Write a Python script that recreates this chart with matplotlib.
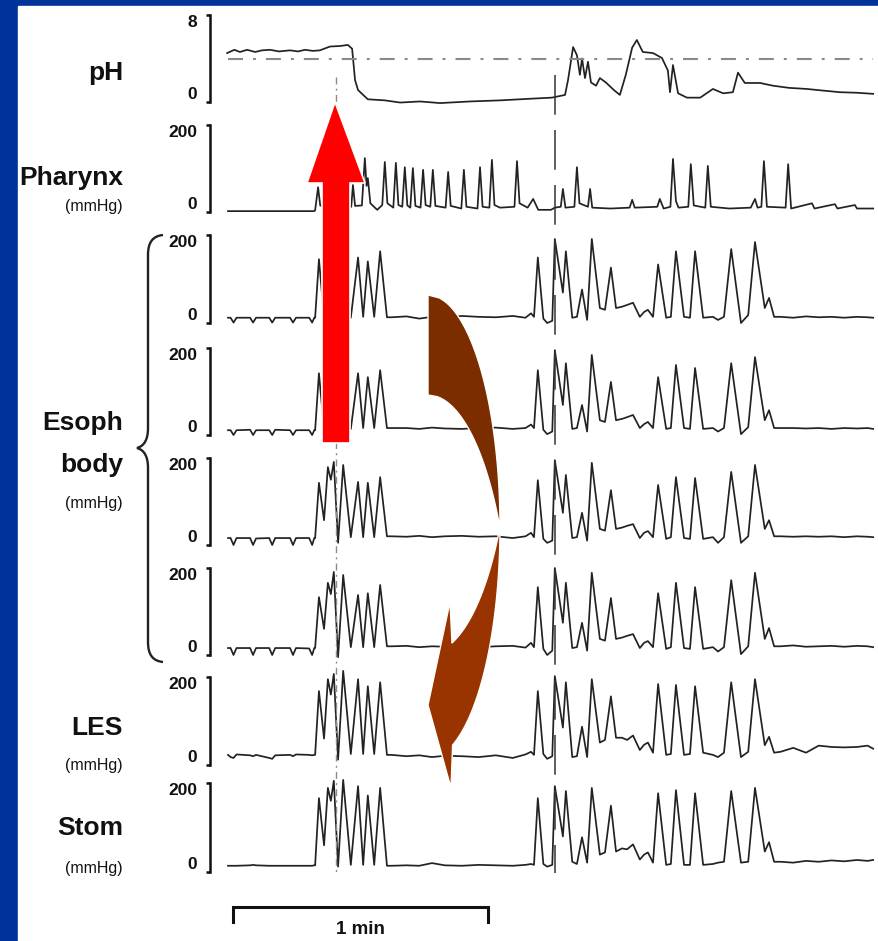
import matplotlib
matplotlib.use("Agg")
import matplotlib.pyplot as plt
from matplotlib.patches import Polygon, Rectangle, PathPatch
from matplotlib.path import Path
import numpy as np

plt.rcParams['font.family'] = ['Liberation Sans', 'DejaVu Sans']

# ---------------- data (time in s, pressure in mmHg) ----------------
PH_TRACE = [(-0.2, 4.5), (1.5, 4.8), (2.8, 4.6), (4.5, 4.8), (6.4, 4.6), (8, 4.75), (9.9, 4.8),
            (12, 4.65), (14.6, 4.75), (16.5, 4.65), (18.1, 4.8), (20, 4.7), (21.6, 4.75), (24.0, 5.1),
            (26.4, 5.15), (28.2, 5.25), (29.2, 4.9), (29.9, 2.0), (30.6, 1.1), (31.8, 0.65), (32.9, 0.25),
            (36.9, 0.15), (40.5, -0.05), (45.2, 0.05), (49.9, -0.1), (56.9, 0.05), (64, 0.15), (71.1, 0.3),
            (76.2, 0.4), (79.3, 0.65), (80.0, 2.0), (81.2, 5.05), (82.1, 4.3), (82.8, 2.5), (83.3, 4.0),
            (84.0, 2.2), (84.7, 3.7), (85.4, 1.8), (86.6, 1.5), (87.5, 2.2), (88.9, 1.8), (90.8, 1.1),
            (92.2, 0.65), (93.6, 2.5), (95.1, 5.0), (96.2, 5.7), (97.6, 4.6), (100, 4.5), (102.1, 4.05),
            (103.5, 2.9), (104, 0.9), (104.7, 3.4), (105.9, 0.8), (108, 0.4), (111.1, 0.4), (114.1, 1.2),
            (116.5, 0.8), (118.8, 0.9), (120, 2.7), (121.6, 1.75), (125.2, 1.75), (128.2, 1.5), (132, 1.3),
            (136.2, 1.2), (140, 1.05), (144, 0.9), (148, 0.85), (151.8, 0.75)]
PH_THRESHOLD = 4

PHARYNX = [(0, 2), (20.3, 2), (20.5, 4), (21.2, 57), (21.7, 15), (22.5, 12), (29.0, 12), (29.4, 62),
           (29.9, 14), (31.5, 15), (32.2, 124), (32.6, 60), (32.9, 78), (33.5, 20), (35.1, 5), (36.3, 16),
           (36.9, 115), (37.5, 20), (38.9, 10), (39.5, 113), (40.1, 16), (41.0, 12), (41.6, 103), (42.2, 15),
           (42.9, 10), (43.5, 101), (44.1, 14), (45.3, 10), (45.9, 97), (46.5, 16), (47.6, 12), (48.2, 97),
           (48.8, 14), (51.2, 10), (51.8, 92), (52.4, 14), (54.9, 8), (55.5, 97), (56.1, 12), (58.7, 8),
           (59.3, 103), (59.9, 12), (61.5, 10), (62.1, 120), (62.7, 16), (64, 10), (67.4, 12), (68.0, 117),
           (68.6, 20), (70.5, 10), (71.8, 30), (73, 5), (76, 5), (76.9, 10), (78.3, 12), (78.8, 53),
           (79.4, 10), (81.5, 12), (82.1, 103), (82.7, 20), (84.7, 12), (85.2, 53), (85.7, 10), (90, 8),
           (94.5, 10), (95.1, 28), (95.7, 10), (101, 12), (101.6, 30), (102.5, 8), (104.1, 12), (104.7, 122),
           (105.4, 25), (106, 10), (108.3, 12), (108.9, 110), (109.6, 15), (112.3, 10), (112.9, 106),
           (113.6, 12), (118, 8), (123, 10), (124, 30), (124.6, 10), (125.5, 12), (126.1, 117), (126.8, 12),
           (131.2, 10), (131.8, 110), (132.5, 8), (137.4, 20), (138, 8), (142.8, 18), (143.4, 8),
           (147.5, 16), (148, 8), (151.8, 8)]

# shared sample times of the esophageal / LES / stomach tracings
PRE_T = [0, 0.6, 1.3, 2.0, 5.2, 5.9, 6.6, 9.7, 10.4, 11.1, 14.6, 15.3, 16.0, 19.1, 19.8, 20.3]
BURST1_T = [20.5, 21.4, 22.6, 23.5, 24.2, 24.9, 25.9, 27.1, 28.9, 30.6, 31.8, 32.9, 34.4, 35.8, 37.4]
MID_T = [38.5, 42, 45, 48, 51, 55, 59, 63, 67, 70, 71.3]
BURST2_T = [72.0, 72.9, 74.2, 75.1, 76.3, 76.9, 78.8, 79.5, 81.0, 82.1, 83.3, 84.5, 85.6, 87.5, 88.7,
            90.1, 91.3, 92.7, 93.9, 95.3, 96.9, 97.9, 98.8, 100.0, 101.2, 103.1, 104.2, 105.4, 107.3,
            108.7, 109.9, 111.8, 114.1, 115.3, 116.7, 118.4, 120.7, 122.4, 124.0, 126.3, 127.3, 128.5]
TAIL_T = [130, 133, 136, 139, 142, 145, 148, 150.5, 151.8]
TRACE_T = PRE_T + BURST1_T + MID_T + BURST2_T + TAIL_T

ESO1 = ([12, 12, 1, 12, 12, 1, 12, 12, 1, 12, 12, 1, 12, 12, 1, 12] +
        [12, 145, 12, 12, 12, 12, 12, 12, 12, 149, 14, 140, 14, 163, 13] +
        [13, 15, 10, 14, 12, 16, 14, 13, 16, 12, 22] +
        [14, 149, 10, 0, 5, 191, 69, 163, 12, 14, 76, 7, 191, 34, 30, 126, 34, 37, 41, 46, 14,
         25, 30, 14, 133, 12, 14, 163, 14, 12, 163, 12, 14, 7, 14, 168, 0, 18, 184, 34, 57, 14] +
        [14, 12, 15, 13, 14, 12, 14, 13, 12])
ESO2 = ([11, 11, 0, 11, 12, 0, 11, 11, 0, 12, 11, 0, 11, 11, 0, 11] +
        [11, 142, 12, 12, 12, 12, 12, 12, 14, 142, 16, 133, 16, 149, 16] +
        [16, 16, 14, 17, 15, 14, 16, 17, 14, 16, 24] +
        [16, 149, 12, 2, 8, 195, 69, 165, 14, 16, 69, 8, 184, 34, 30, 122, 34, 37, 41, 46, 16,
         25, 30, 16, 133, 14, 16, 161, 16, 14, 154, 14, 16, 8, 16, 165, 2, 18, 179, 34, 57, 16] +
        [16, 16, 15, 16, 14, 16, 15, 16, 14])
ESO3 = ([16, 16, 0, 16, 16, 0, 15, 16, 0, 16, 16, 0, 16, 16, 0, 16] +
        [16, 143, 57, 179, 150, 191, 5, 184, 18, 145, 18, 143, 18, 156, 20] +
        [20, 19, 21, 18, 20, 21, 19, 20, 16, 20, 28] +
        [18, 149, 14, 5, 10, 195, 74, 161, 16, 18, 74, 10, 189, 37, 33, 126, 37, 40, 44, 48, 16,
         28, 32, 18, 138, 14, 18, 156, 16, 14, 154, 14, 18, 5, 18, 168, 5, 20, 184, 37, 57, 20] +
        [20, 19, 20, 19, 20, 18, 20, 19, 18])
ESO4 = ([16, 16, 0, 16, 16, 0, 16, 16, 0, 16, 16, 0, 16, 15, 0, 16] +
        [16, 133, 60, 166, 140, 191, -5, 184, 18, 138, 18, 142, 18, 161, 20] +
        [20, 21, 18, 20, 19, 22, 18, 20, 21, 17, 28] +
        [18, 156, 14, 0, 10, 200, 74, 166, 16, 18, 74, 10, 189, 37, 33, 131, 37, 40, 44, 48, 16,
         28, 32, 18, 142, 14, 18, 166, 16, 14, 156, 14, 18, 8, 18, 172, 2, 20, 189, 37, 62, 20] +
        [20, 22, 19, 20, 21, 19, 21, 20, 18])
LES = ([23, 18, 16, 24, 22, 20, 23, 16, 14, 22, 23, 20, 24, 23, 22, 23] +
       [23, 168, 60, 195, 160, 207, 12, 214, 25, 195, 25, 179, 25, 188, 23] +
       [23, 20, 22, 18, 21, 20, 18, 22, 16, 24, 30] +
       [23, 168, 25, 14, 20, 202, 85, 188, 18, 20, 87, 18, 195, 51, 57, 156, 62, 62, 57, 67, 34,
        46, 51, 28, 184, 23, 25, 182, 23, 25, 179, 28, 23, 18, 28, 188, 18, 30, 195, 45, 64, 28] +
       [30, 39, 28, 44, 41, 40, 41, 44, 37])
STOM = ([14, 14, 14, 14, 15, 16, 15, 14, 14, 14, 14, 14, 14, 14, 14, 15] +
        [15, 166, 60, 189, 160, 205, 12, 207, 16, 193, 16, 172, 16, 189, 14] +
        [14, 15, 14, 20, 15, 14, 16, 15, 14, 16, 18] +
        [16, 166, 18, 12, 16, 193, 80, 182, 23, 18, 78, 21, 189, 39, 44, 149, 46, 53, 51, 62, 28,
         39, 44, 21, 177, 16, 18, 184, 16, 16, 177, 16, 18, 21, 23, 182, 21, 23, 189, 46, 67, 23] +
        [23, 21, 25, 23, 26, 24, 27, 25, 27])
for tr in (ESO1, ESO2, ESO3, ESO4, LES, STOM):
    assert len(tr) == len(TRACE_T), len(tr)

EVENT_TIMES = [25.4, 76.9]
SCALE_BAR = (1.2, 60)          # start, length in s
PRESSURE_MAX = 200
PH_MAX = 8

# ---------------- layout (pixels) ----------------
W, H = 879, 941
T0_PX, PX_PER_S = 228, 4.25
AX_X0, AX_X1 = 210, 878
XLIM = ((AX_X0 - T0_PX) / PX_PER_S, (AX_X1 - T0_PX) / PX_PER_S)
TOP_PX = [15, 125, 235, 348, 458, 568, 677, 783]
ZERO_PX = [102, 212, 323, 435, 545, 655, 765, 872]
LINE = '#222222'
LW = 1.25

fig = plt.figure(figsize=(W / 100, H / 100), dpi=100)
fig.patch.set_facecolor('#00339a')


def px_rect(x0, y0, x1, y1):
    return [x0 / W, 1 - y1 / H, (x1 - x0) / W, (y1 - y0) / H]


bg = fig.add_axes([0, 0, 1, 1])
bg.set_xlim(0, W)
bg.set_ylim(H, 0)
bg.axis('off')
bg.add_patch(Rectangle((18, 6), W - 18, H - 6, color='white', zorder=0))

labels = [("pH", 80, 19), ("Pharynx", 185, 19), ("(mmHg)", 211, 11.5),
          ("Esoph", 430, 19), ("body", 472, 19), ("(mmHg)", 508, 11.5),
          ("LES", 735, 19), ("(mmHg)", 770, 11.5), ("Stom", 835, 19), ("(mmHg)", 873, 11.5)]
for txt, yb, fs in labels:
    bg.text(123, yb, txt, ha='right', va='baseline', fontsize=fs, color='#111',
            fontweight='bold' if fs > 15 else 'normal')

# curly brace of the esophageal body
brace = Path([(163, 235), (153, 236), (148, 242), (148, 255), (148, 428),
              (148, 440), (144, 446), (137, 448), (144, 450), (148, 456), (148, 468),
              (148, 642), (148, 655), (153, 661), (163, 662)],
             [Path.MOVETO, Path.CURVE4, Path.CURVE4, Path.CURVE4, Path.LINETO,
              Path.CURVE4, Path.CURVE4, Path.CURVE4, Path.CURVE4, Path.CURVE4, Path.CURVE4,
              Path.LINETO, Path.CURVE4, Path.CURVE4, Path.CURVE4])
bg.add_patch(PathPatch(brace, fill=False, lw=1.7, color='#222'))


def channel_axes(i, vmax, lo, hi):
    s = (ZERO_PX[i] - TOP_PX[i]) / vmax
    ax = fig.add_axes(px_rect(AX_X0, ZERO_PX[i] - hi * s, AX_X1, ZERO_PX[i] - lo * s))
    ax.set_zorder(1)
    ax.patch.set_alpha(0)
    ax.set_xlim(XLIM)
    ax.set_ylim(lo, hi)
    for sp in ['top', 'right', 'bottom']:
        ax.spines[sp].set_visible(False)
    ax.spines['left'].set_bounds(0, vmax)
    ax.spines['left'].set_linewidth(1.8)
    ax.spines['left'].set_color('#111')
    ax.set_xticks([])
    ax.set_yticks([0, vmax])
    ax.set_yticklabels(['0', str(vmax)])
    ax.tick_params(axis='y', length=3, width=1.8, pad=6, labelsize=12.5, colors='#111')
    lab = ax.get_yticklabels()
    lab[0].set_va('bottom')
    lab[1].set_va('top')
    for l in lab:
        l.set_fontweight('bold')
    return ax


ph_ax = channel_axes(0, PH_MAX, -2, 10)
t, v = zip(*PH_TRACE)
ph_ax.plot(t, v, color=LINE, lw=LW, clip_on=False)
ph_ax.plot([0, TRACE_T[-1]], [PH_THRESHOLD, PH_THRESHOLD], color='#8a8a8a', lw=1.5,
           dashes=(7.2, 4.8, 1.4, 4.8))

ph_ax2 = channel_axes(1, PRESSURE_MAX, -40, 240)
t, v = zip(*PHARYNX)
ph_ax2.plot(t, v, color=LINE, lw=LW, clip_on=False)

for i, tr in enumerate([ESO1, ESO2, ESO3, ESO4, LES, STOM], start=2):
    ax = channel_axes(i, PRESSURE_MAX, -40, 240)
    ax.plot(TRACE_T, tr, color=LINE, lw=LW, clip_on=False)

# event markers and time scale
ev = fig.add_axes(px_rect(AX_X0, 0, AX_X1, H))
ev.set_zorder(2)
ev.patch.set_alpha(0)
ev.set_xlim(XLIM)
ev.set_ylim(H, 0)
ev.axis('off')
ev.plot([EVENT_TIMES[0]] * 2, [77, 875], color='#8c8c8c', lw=1.0, dashes=(5, 3, 1.5, 3))
ev.plot([EVENT_TIMES[1]] * 2, [75, 873], color='#333333', lw=1.1, dashes=(26, 10))
x0, dur = SCALE_BAR
ev.plot([x0, x0, x0 + dur, x0 + dur], [922, 907, 907, 922], color='#111', lw=2.2,
        solid_joinstyle='miter')
ev.text(x0 + dur / 2, 930, "1 min", ha='center', va='center', fontsize=13.5,
        fontweight='bold', color='#111')

# overlay arrows
ov = fig.add_axes([0, 0, 1, 1])
ov.set_zorder(3)
ov.patch.set_alpha(0)
ov.set_xlim(0, W)
ov.set_ylim(H, 0)
ov.axis('off')
ov.add_patch(Polygon([(322, 443), (322, 183), (307, 183), (335, 102), (365, 183), (350, 183), (350, 443)],
                     closed=True, facecolor='#ff0000', edgecolor='white', lw=1.2))


def ell_x(y, cy, a, b):
    return 428 + a * np.sqrt(np.clip(1 - ((y - cy) / b) ** 2, 0, 1))


y_up = np.linspace(295, 527, 80)
y_in_up = np.linspace(527, 395, 80)
top_part = np.vstack([np.column_stack([ell_x(y_up, 527, 72, 232), y_up]),
                      np.column_stack([ell_x(y_in_up, 660, 83, 265), y_in_up])])
y_lo = np.linspace(527, 745, 80)
y_in_lo = np.linspace(643, 527, 80)
bottom_part = np.vstack([np.column_stack([ell_x(y_lo, 527, 72, 232), y_lo]),
                         [(451, 788), (428, 705), (450, 602), (452, 643)],
                         np.column_stack([ell_x(y_in_lo, 401, 83, 252.7), y_in_lo])])
ov.add_patch(Polygon(top_part, closed=True, facecolor='#7b2d00', edgecolor='white', lw=1.0))
ov.add_patch(Polygon(bottom_part, closed=True, facecolor='#993300', edgecolor='white', lw=1.0))

fig.savefig('out.png', dpi=100, facecolor=fig.get_facecolor())
